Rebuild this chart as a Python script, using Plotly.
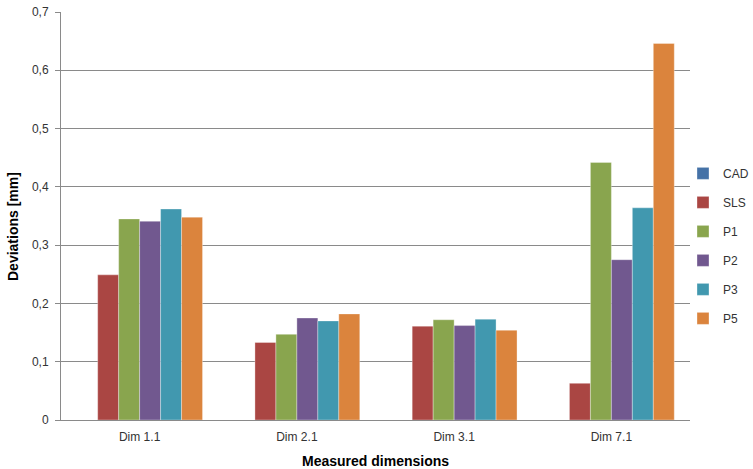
import plotly.graph_objects as go

# Measured dimensions and deviations [mm] per manufacturing variant
categories = ["Dim 1.1", "Dim 2.1", "Dim 3.1", "Dim 7.1"]
series_names = ["CAD", "SLS", "P1", "P2", "P3", "P5"]
cad = [0.0, 0.0, 0.0, 0.0]
sls = [0.249, 0.133, 0.161, 0.063]
p1 = [0.345, 0.147, 0.172, 0.442]
p2 = [0.341, 0.175, 0.162, 0.275]
p3 = [0.362, 0.170, 0.173, 0.364]
p5 = [0.348, 0.182, 0.154, 0.646]
y_tick_values = [0, 0.1, 0.2, 0.3, 0.4, 0.5, 0.6, 0.7]
y_tick_labels = ["0", "0,1", "0,2", "0,3", "0,4", "0,5", "0,6", "0,7"]

colors = ["#4572A7", "#AA4643", "#89A54E", "#71588F", "#4198AF", "#DB843D"]
values = [cad, sls, p1, p2, p3, p5]

FONT = "Liberation Sans"
W, H = 753, 469
L, R, T, B = 61, 0, 12, 49
PLOT_RIGHT = 690                      # right edge of the plotting area in px
PW = W - L - R                        # paper width in px
PH = H - T - B                        # paper height in px

fig = go.Figure()
for name, vals, col in zip(series_names, values, colors):
    fig.add_trace(go.Bar(
        name=name, x=categories, y=vals,
        marker=dict(color=col, line=dict(color="rgba(255,255,255,0.55)", width=0.6)),
        legendgroup=name,
    ))

fig.update_layout(
    width=W, height=H,
    margin=dict(l=L, r=R, t=T, b=B, autoexpand=False),
    paper_bgcolor="white", plot_bgcolor="white",
    barmode="group", bargap=0.2, bargroupgap=0,
    font=dict(family=FONT, size=12, color="#333333"),
    showlegend=True,
    legend=dict(
        x=(683 - L) / PW, xanchor="left", y=0.64, yanchor="top",
        font=dict(family=FONT, size=12, color="#333333"),
        tracegroupgap=10, itemwidth=30,
        bgcolor="rgba(0,0,0,0)",
    ),
    xaxis=dict(
        domain=[0, (PLOT_RIGHT - L) / PW],
        showgrid=False, showline=True, linecolor="#8a8a8a", linewidth=1,
        ticks="", tickfont=dict(size=12, color="#333333"),
        ticklabelstandoff=6,
    ),
    yaxis=dict(
        range=[0, 0.7], tickvals=y_tick_values, ticktext=y_tick_labels,
        showgrid=True, gridcolor="#8a8a8a", gridwidth=1,
        showline=True, linecolor="#8a8a8a", linewidth=1,
        ticks="outside", ticklen=5, tickcolor="#8a8a8a",
        tickfont=dict(size=12, color="#333333"),
        ticklabelstandoff=4, zeroline=False,
    ),
    annotations=[
        dict(text="<b>Deviations [mm]</b>", textangle=-90,
             xref="paper", yref="paper",
             x=(13 - L) / PW, y=(H - B - 227) / PH,
             xanchor="center", yanchor="middle", showarrow=False,
             font=dict(family=FONT, size=14, color="black")),
        dict(text="<b>Measured dimensions</b>",
             xref="paper", yref="paper",
             x=((L + PLOT_RIGHT) / 2 - L) / PW, y=(H - B - 461) / PH,
             xanchor="center", yanchor="middle", showarrow=False,
             font=dict(family=FONT, size=14, color="black")),
    ],
)

fig.write_html("out.html")
